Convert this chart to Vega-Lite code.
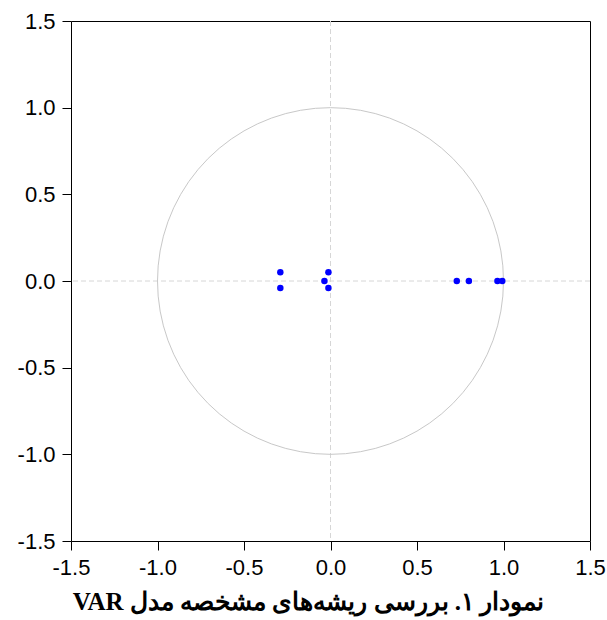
{
  "$schema": "https://vega.github.io/schema/vega-lite/v6.json",
  "width": 519,
  "height": 520,
  "autosize": "none",
  "padding": {"left": 71, "top": 21, "right": 17, "bottom": 79},
  "title": {
    "text": "VAR نمودار ۱. بررسی ریشه‌های مشخصه مدل",
    "orient": "bottom",
    "anchor": "middle",
    "dx": -22,
    "offset": 12,
    "font": "Liberation Serif",
    "fontWeight": "bold",
    "fontSize": 25,
    "color": "black"
  },
  "datasets": {
    "roots": [
      {"re": -0.29, "im": 0.05},
      {"re": -0.29, "im": -0.04},
      {"re": -0.035, "im": 0.0},
      {"re": -0.012, "im": 0.05},
      {"re": -0.012, "im": -0.04},
      {"re": 0.73, "im": 0.0},
      {"re": 0.80, "im": 0.0},
      {"re": 0.965, "im": 0.0},
      {"re": 0.993, "im": 0.0}
    ],
    "circle": [
      {"a": 0, "cx": 1, "cy": 0},
      {"a": 5, "cx": 0.9962, "cy": 0.0872},
      {"a": 10, "cx": 0.9848, "cy": 0.1736},
      {"a": 15, "cx": 0.9659, "cy": 0.2588},
      {"a": 20, "cx": 0.9397, "cy": 0.342},
      {"a": 25, "cx": 0.9063, "cy": 0.4226},
      {"a": 30, "cx": 0.866, "cy": 0.5},
      {"a": 35, "cx": 0.8192, "cy": 0.5736},
      {"a": 40, "cx": 0.766, "cy": 0.6428},
      {"a": 45, "cx": 0.7071, "cy": 0.7071},
      {"a": 50, "cx": 0.6428, "cy": 0.766},
      {"a": 55, "cx": 0.5736, "cy": 0.8192},
      {"a": 60, "cx": 0.5, "cy": 0.866},
      {"a": 65, "cx": 0.4226, "cy": 0.9063},
      {"a": 70, "cx": 0.342, "cy": 0.9397},
      {"a": 75, "cx": 0.2588, "cy": 0.9659},
      {"a": 80, "cx": 0.1736, "cy": 0.9848},
      {"a": 85, "cx": 0.0872, "cy": 0.9962},
      {"a": 90, "cx": 0, "cy": 1},
      {"a": 95, "cx": -0.0872, "cy": 0.9962},
      {"a": 100, "cx": -0.1736, "cy": 0.9848},
      {"a": 105, "cx": -0.2588, "cy": 0.9659},
      {"a": 110, "cx": -0.342, "cy": 0.9397},
      {"a": 115, "cx": -0.4226, "cy": 0.9063},
      {"a": 120, "cx": -0.5, "cy": 0.866},
      {"a": 125, "cx": -0.5736, "cy": 0.8192},
      {"a": 130, "cx": -0.6428, "cy": 0.766},
      {"a": 135, "cx": -0.7071, "cy": 0.7071},
      {"a": 140, "cx": -0.766, "cy": 0.6428},
      {"a": 145, "cx": -0.8192, "cy": 0.5736},
      {"a": 150, "cx": -0.866, "cy": 0.5},
      {"a": 155, "cx": -0.9063, "cy": 0.4226},
      {"a": 160, "cx": -0.9397, "cy": 0.342},
      {"a": 165, "cx": -0.9659, "cy": 0.2588},
      {"a": 170, "cx": -0.9848, "cy": 0.1736},
      {"a": 175, "cx": -0.9962, "cy": 0.0872},
      {"a": 180, "cx": -1, "cy": 0},
      {"a": 185, "cx": -0.9962, "cy": -0.0872},
      {"a": 190, "cx": -0.9848, "cy": -0.1736},
      {"a": 195, "cx": -0.9659, "cy": -0.2588},
      {"a": 200, "cx": -0.9397, "cy": -0.342},
      {"a": 205, "cx": -0.9063, "cy": -0.4226},
      {"a": 210, "cx": -0.866, "cy": -0.5},
      {"a": 215, "cx": -0.8192, "cy": -0.5736},
      {"a": 220, "cx": -0.766, "cy": -0.6428},
      {"a": 225, "cx": -0.7071, "cy": -0.7071},
      {"a": 230, "cx": -0.6428, "cy": -0.766},
      {"a": 235, "cx": -0.5736, "cy": -0.8192},
      {"a": 240, "cx": -0.5, "cy": -0.866},
      {"a": 245, "cx": -0.4226, "cy": -0.9063},
      {"a": 250, "cx": -0.342, "cy": -0.9397},
      {"a": 255, "cx": -0.2588, "cy": -0.9659},
      {"a": 260, "cx": -0.1736, "cy": -0.9848},
      {"a": 265, "cx": -0.0872, "cy": -0.9962},
      {"a": 270, "cx": 0, "cy": -1},
      {"a": 275, "cx": 0.0872, "cy": -0.9962},
      {"a": 280, "cx": 0.1736, "cy": -0.9848},
      {"a": 285, "cx": 0.2588, "cy": -0.9659},
      {"a": 290, "cx": 0.342, "cy": -0.9397},
      {"a": 295, "cx": 0.4226, "cy": -0.9063},
      {"a": 300, "cx": 0.5, "cy": -0.866},
      {"a": 305, "cx": 0.5736, "cy": -0.8192},
      {"a": 310, "cx": 0.6428, "cy": -0.766},
      {"a": 315, "cx": 0.7071, "cy": -0.7071},
      {"a": 320, "cx": 0.766, "cy": -0.6428},
      {"a": 325, "cx": 0.8192, "cy": -0.5736},
      {"a": 330, "cx": 0.866, "cy": -0.5},
      {"a": 335, "cx": 0.9063, "cy": -0.4226},
      {"a": 340, "cx": 0.9397, "cy": -0.342},
      {"a": 345, "cx": 0.9659, "cy": -0.2588},
      {"a": 350, "cx": 0.9848, "cy": -0.1736},
      {"a": 355, "cx": 0.9962, "cy": -0.0872},
      {"a": 360, "cx": 1, "cy": 0}
    ],
    "zero": [{"z": 0}]
  },
  "layer": [
    {
      "data": {"name": "zero"},
      "mark": {"type": "rule", "color": "#d6d6d6", "strokeWidth": 1, "strokeDash": [5, 3]},
      "encoding": {
        "x": {"field": "z", "type": "quantitative", "scale": {"domain": [-1.5, 1.5], "nice": false, "zero": false},
          "axis": {"values": [-1.5, -1, -0.5, 0, 0.5, 1, 1.5]}}
      }
    },
    {
      "data": {"name": "zero"},
      "mark": {"type": "rule", "color": "#d6d6d6", "strokeWidth": 1, "strokeDash": [5, 3]},
      "encoding": {
        "y": {"field": "z", "type": "quantitative", "scale": {"domain": [-1.5, 1.5], "nice": false, "zero": false},
          "axis": {"values": [-1.5, -1, -0.5, 0, 0.5, 1, 1.5]}}
      }
    },
    {
      "data": {"name": "circle"},
      "mark": {"type": "line", "color": "#c8c8c8", "strokeWidth": 1},
      "encoding": {
        "x": {"field": "cx", "type": "quantitative", "scale": {"domain": [-1.5, 1.5], "nice": false, "zero": false},
          "axis": {"values": [-1.5, -1, -0.5, 0, 0.5, 1, 1.5]}},
        "y": {"field": "cy", "type": "quantitative", "scale": {"domain": [-1.5, 1.5], "nice": false, "zero": false},
          "axis": {"values": [-1.5, -1, -0.5, 0, 0.5, 1, 1.5]}},
        "order": {"field": "a", "type": "quantitative"}
      }
    },
    {
      "data": {"name": "roots"},
      "mark": {"type": "circle", "color": "#0000ff", "opacity": 1, "size": 42},
      "encoding": {
        "x": {"field": "re", "type": "quantitative", "scale": {"domain": [-1.5, 1.5], "nice": false, "zero": false},
          "axis": {"values": [-1.5, -1, -0.5, 0, 0.5, 1, 1.5]}},
        "y": {"field": "im", "type": "quantitative", "scale": {"domain": [-1.5, 1.5], "nice": false, "zero": false},
          "axis": {"values": [-1.5, -1, -0.5, 0, 0.5, 1, 1.5]}}
      }
    }
  ],
  "config": {
    "view": {"stroke": "black", "strokeWidth": 1},
    "axis": {
      "title": null,
      "grid": false,
      "domain": false,
      "tickColor": "black",
      "tickSize": 9,
      "labelFont": "Liberation Sans",
      "labelFontSize": 22,
      "labelColor": "black",
      "labelPadding": 7,
      "labelExpr": "datum.value < 0 ? '-' + format(-datum.value, '.1f') : format(datum.value, '.1f')",
      "labelOverlap": false,
      "labelFlush": false
    }
  }
}
